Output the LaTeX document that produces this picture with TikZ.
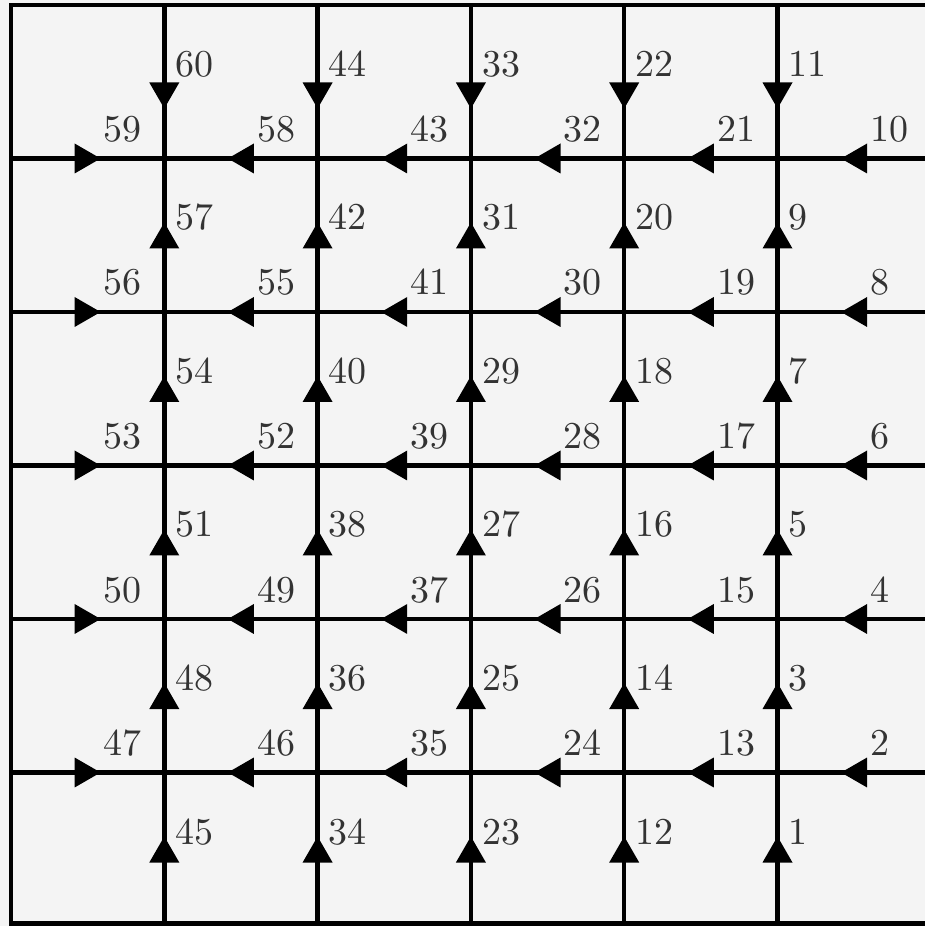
\documentclass[tikz,border=0pt]{standalone}
\usepackage{tikz}
\usepackage{xcolor}

\definecolor{paper}{HTML}{F4F4F4}
\tikzset{
  flowtip/.pic={\fill (0.13,0) -- (-0.13,0.15) -- (-0.13,-0.15) -- cycle;},
  numlabel/.style={anchor=base west, inner sep=0pt, font=\fontsize{10.8}{13}\selectfont, text=black!80},
}

\begin{document}
\begin{tikzpicture}[line width=1.3pt]
    \fill[paper] (0,0) rectangle (9.25,9.26);
    \useasboundingbox (0,0) rectangle (9.25,9.26);
    \draw (9.4,9.21) -- (0.11,9.21) -- (0.11,0.023) -- (9.4,0.023);
    \foreach \c in {1,...,5}
        \draw ({0.11+1.533*\c},9.21) -- ({0.11+1.533*\c},0.023);
    \foreach \r in {1,...,5}
        \draw (0.11,{9.21-1.535*\r}) -- (9.4,{9.21-1.535*\r});
    % vertical flow: top segment down, the rest up
    \foreach \c/\dnum/\ups in {1/60/{57,54,51,48,45}, 2/44/{42,40,38,36,34},
            3/33/{31,29,27,25,23}, 4/22/{20,18,16,14,12}, 5/11/{9,7,5,3,1}} {
        \pgfmathsetmacro\xx{0.11+1.533*\c}
        \pic[rotate=-90] at (\xx,8.305) {flowtip};
        \node[numlabel] (n\dnum) at (\xx+0.09,8.49) {\dnum};
        \foreach \n [count=\k] in \ups {
            \pgfmathsetmacro\yy{9.21-1.535*\k-0.77}
            \pic[rotate=90] at (\xx,\yy) {flowtip};
            \node[numlabel] (n\n) at (\xx+0.09,\yy+0.055) {\n};
        }
    }
    % horizontal flow: left segment right, the rest left
    \foreach \r/\nums in {1/{59,58,43,32,21,10}, 2/{56,55,41,30,19,8},
            3/{53,52,39,28,17,6}, 4/{50,49,37,26,15,4}, 5/{47,46,35,24,13,2}} {
        \pgfmathsetmacro\yy{9.21-1.535*\r}
        \foreach \n [count=\c] in \nums {
            \pgfmathsetmacro\xx{0.11+1.533*\c-0.767}
            \ifnum\c=1 \def\ang{0}\else\def\ang{180}\fi
            \pic[rotate=\ang] at (\xx,\yy) {flowtip};
            \node[numlabel] (n\n) at (\xx+0.14,\yy+0.17) {\n};
        }
    }
\end{tikzpicture}
\end{document}
